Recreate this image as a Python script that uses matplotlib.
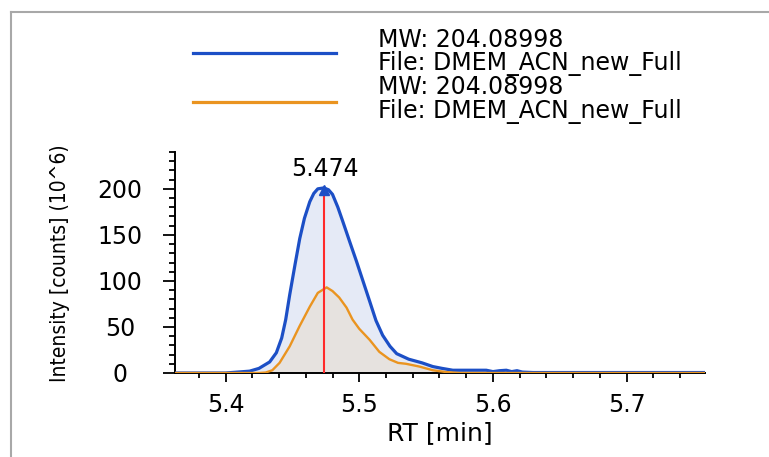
import matplotlib
matplotlib.use("Agg")
import matplotlib.pyplot as plt
from matplotlib.lines import Line2D
from matplotlib.ticker import MultipleLocator

# chromatogram traces (RT in min, intensity in 10^6 counts)
rt_blue = [5.3622, 5.40, 5.418, 5.425, 5.433, 5.438, 5.442, 5.445, 5.448, 5.452,
           5.4555, 5.459, 5.463, 5.466, 5.469, 5.4735, 5.477, 5.480, 5.484, 5.4876,
           5.493, 5.498, 5.503, 5.508, 5.5125, 5.5175, 5.523, 5.528, 5.537, 5.547,
           5.555, 5.562, 5.570, 5.582, 5.595, 5.600, 5.605, 5.610, 5.614, 5.618,
           5.622, 5.630, 5.7586]
int_blue = [0, 0, 2, 5, 12, 22, 38, 58, 85, 118,
            146, 168, 186, 195, 200, 201, 199, 194, 180, 165,
            142, 121, 99, 77, 57, 41, 29, 21, 15, 11,
            7, 5, 3, 3, 3, 1.5, 2.5, 3, 1.5, 2.5,
            1, 0.5, 0.5]

rt_orange = [5.3622, 5.425, 5.430, 5.435, 5.4404, 5.448, 5.4554, 5.463, 5.469, 5.4756,
             5.480, 5.485, 5.4905, 5.495, 5.500, 5.5078, 5.515, 5.5225, 5.529, 5.535,
             5.545, 5.555, 5.565, 5.575, 5.7586]
int_orange = [0, 0, 0.5, 3, 11, 29, 51, 72, 87, 93,
              89, 82, 71, 58, 48, 36, 23, 15, 11, 10,
              7, 3, 1, 0, 0]

peak_rt = 5.474
peak_height = 201
legend_labels = ["MW: 204.08998", "File: DMEM_ACN_new_Full",
                 "MW: 204.08998", "File: DMEM_ACN_new_Full"]

blue = "#1c4fc6"
orange = "#ea9420"

fig = plt.figure(figsize=(7.69, 4.57), dpi=100)
ax = fig.add_axes([175/769, 84/457, 530/769, 221/457])

ax.fill_between(rt_blue, int_blue, color="#e5eaf6", lw=0)
ax.fill_between(rt_orange, int_orange, color="#e6e2df", lw=0)
ax.plot(rt_blue, int_blue, color=blue, lw=2.3, zorder=3)
ax.plot(rt_orange, int_orange, color=orange, lw=1.7, zorder=3)
ax.plot([peak_rt, peak_rt], [0, peak_height], color="#ff2a2a", lw=1.5, zorder=4)
ax.plot([peak_rt], [peak_height - 2], marker="^", color=blue, ms=7, zorder=4)
ax.text(peak_rt, peak_height + 7, "%.3f" % peak_rt, ha="center", va="bottom",
        fontsize=17)

ax.set_xlim(5.3622, 5.7586)
ax.set_ylim(0, 240)
ax.xaxis.set_major_locator(MultipleLocator(0.1))
ax.xaxis.set_minor_locator(MultipleLocator(0.02))
ax.yaxis.set_major_locator(MultipleLocator(50))
ax.yaxis.set_minor_locator(MultipleLocator(10))

for s in ["top", "right"]:
    ax.spines[s].set_visible(False)
for s in ["left", "bottom"]:
    ax.spines[s].set_linewidth(1.4)

ax.tick_params(axis="x", which="major", length=6.5, width=1.3, pad=8, labelsize=17)
ax.tick_params(axis="x", which="minor", length=3.5, width=1.3)
ax.tick_params(axis="y", which="major", length=8.5, width=1.3, pad=31, labelsize=17)
ax.tick_params(axis="y", which="minor", length=4.5, width=1.3)
for lbl in ax.get_yticklabels():
    lbl.set_ha("center")

ax.set_xlabel("RT [min]", fontsize=18, labelpad=3)
fig.text(60/769, 1 - 263/457, "Intensity [counts] (10^6)", rotation=90,
         ha="center", va="center", fontsize=15, fontstretch="condensed")

# legend drawn by hand above the axes
fig.add_artist(Line2D([193/769, 336/769], [1 - 53/457, 1 - 53/457], color=blue, lw=2.3))
fig.add_artist(Line2D([193/769, 336/769], [1 - 102/457, 1 - 102/457], color=orange, lw=2.3))
for i, lab in enumerate(legend_labels):
    y = [40, 63.5, 87, 111][i]
    fig.text(378/769, 1 - y/457, lab, ha="left", va="center", fontsize=17)

# grey frame around the plot
fig.add_artist(Line2D([11/769, 11/769], [0, 1 - 12/457], color="#a8a8a8", lw=1.5))
fig.add_artist(Line2D([11/769, 1], [1 - 12/457, 1 - 12/457], color="#a8a8a8", lw=1.5))

fig.savefig("out.png", dpi=100)
